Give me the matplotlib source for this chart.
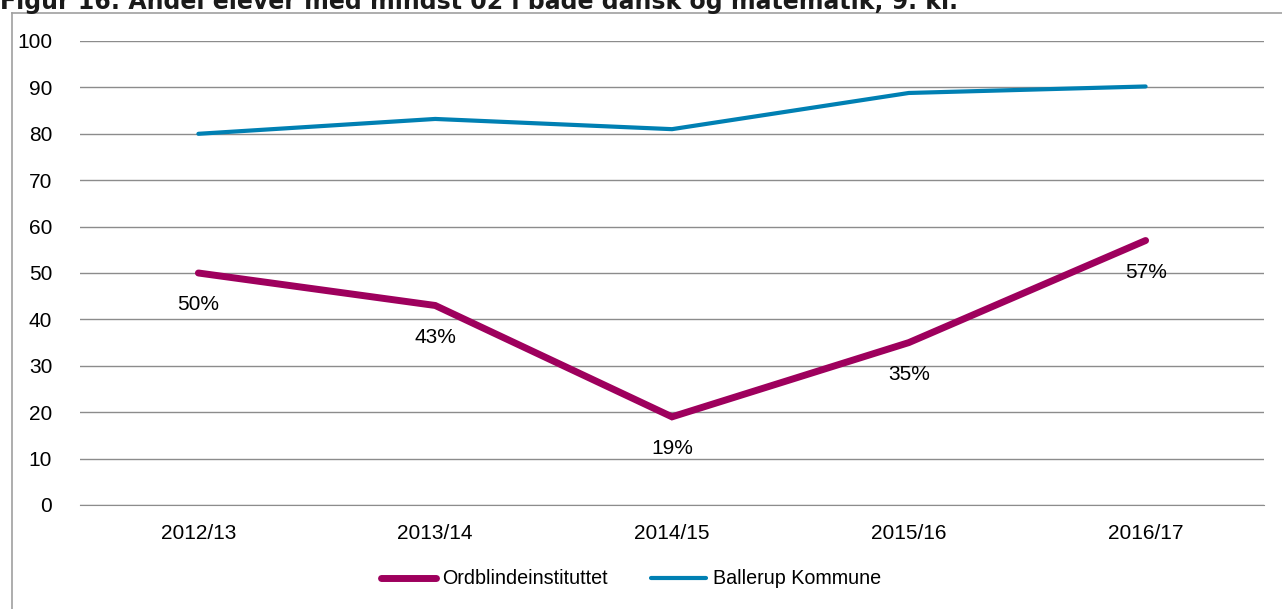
import matplotlib.pyplot as plt
from matplotlib.lines import Line2D

plt.rcParams['font.family'] = ['Liberation Sans', 'DejaVu Sans']

# data
years = ["2012/13", "2013/14", "2014/15", "2015/16", "2016/17"]
ordblinde = [50, 43, 19, 35, 57]
ballerup = [80, 83.2, 81, 88.8, 90.2]
yticks = [0, 10, 20, 30, 40, 50, 60, 70, 80, 90, 100]

purple = "#9E005D"
blue = "#0080B3"
W, H = 1282, 609
fs = 15

fig = plt.figure(figsize=(W / 100, H / 100), dpi=100)
ax = fig.add_axes([80 / W, 1 - 505 / H, 1184 / W, 464 / H])

x = [i + 0.5 for i in range(len(years))]
ax.plot(x, ordblinde, color=purple, lw=5, solid_capstyle="round",
        solid_joinstyle="miter", label="Ordblindeinstituttet", zorder=3)
ax.plot(x, ballerup, color=blue, lw=3, solid_capstyle="round",
        label="Ballerup Kommune", zorder=3)

for xi, v in zip(x, ordblinde):
    ax.annotate(f"{v:.0f}%", (xi, v), xytext=(0, -32), textcoords="offset pixels",
                ha="center", va="center", fontsize=fs, color="black")

ax.set_xlim(0, len(years))
ax.set_ylim(0, 100)
ax.set_yticks(yticks)
ax.set_xticks(x)
ax.set_xticklabels(years)
ax.tick_params(axis="both", length=0, labelsize=fs, colors="black")
ax.tick_params(axis="y", pad=20)
ax.tick_params(axis="x", pad=14)
ax.grid(axis="y", color="#8c8c8c", lw=1)
ax.set_axisbelow(True)
for s in ["top", "right", "left"]:
    ax.spines[s].set_visible(False)
ax.spines["bottom"].set_color("#8c8c8c")

# outer frame (partly cropped in the reference)
fy = 1 - 12.5 / H
fig.add_artist(Line2D([12 / W, 12 / W], [0, fy], color="#a0a0a0", lw=1.2,
                      transform=fig.transFigure))
fig.add_artist(Line2D([12 / W, 1], [fy, fy], color="#a0a0a0", lw=1.2,
                      transform=fig.transFigure))

# title, mostly cut off at the top
fig.text(0 / W, 1 - 8.5 / H, "Figur 16: Andel elever med mindst 02 i både dansk og matematik, 9. kl.",
         fontsize=17, fontweight="bold", family="DejaVu Sans", color="#1a1a1a",
         va="baseline", ha="left")

fig.legend(loc="center", bbox_to_anchor=(631 / W, 1 - 579 / H), ncol=2, frameon=False,
           fontsize=14.2, handlelength=2.75, handletextpad=0.35, columnspacing=2.2)

fig.savefig("out.png", dpi=100)
